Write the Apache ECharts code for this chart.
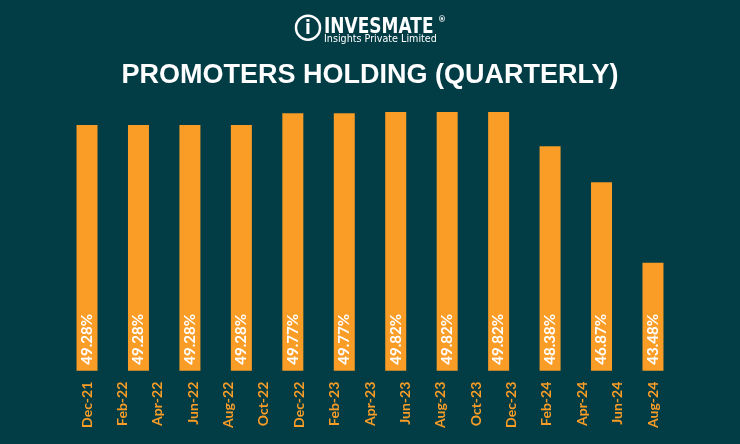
<!DOCTYPE html>
<html><head><meta charset="utf-8">
<script src="https://cdn.jsdelivr.net/npm/echarts@6/dist/echarts.min.js"></script>
<style>html,body{margin:0;padding:0;background:#023c45}#c{width:740px;height:444px}</style>
</head><body><div id="c"></div>
<script>
const barCategories = ['Dec-21','Feb-22','Apr-22','Jun-22','Aug-22','Oct-22','Dec-22','Feb-23','Apr-23','Jun-23','Aug-23','Oct-23'];
const holdingValues = [49.28, 49.28, 49.28, 49.28, 49.77, 49.77, 49.82, 49.82, 49.82, 48.38, 46.87, 43.48];
const tickLabels = ['Dec-21','Feb-22','Apr-22','Jun-22','Aug-22','Oct-22','Dec-22','Feb-23','Apr-23','Jun-23','Aug-23','Oct-23','Dec-23','Feb-24','Apr-24','Jun-24','Aug-24'];
const titleText = 'PROMOTERS HOLDING (QUARTERLY)';

const chart = echarts.init(document.getElementById('c'), null, {renderer:'canvas'});
const orange = '#f99d27';
chart.setOption({
  backgroundColor: '#023c45',
  animation: false,
  title: {
    text: titleText, left: 'center', top: 57,
    textStyle: {color:'#ffffff', fontSize: 27, fontWeight: 'bold', fontFamily: 'Liberation Sans'}
  },
  graphic: [
    {type:'circle', shape:{cx:308, cy:27.7, r:12}, style:{fill:'none', stroke:'#ffffff', lineWidth:2.5}},
    {type:'text', x:308, y:29, scaleY:1.15, style:{x:0, y:0, text:'i', fill:'#ffffff', font:'bold 17px "DejaVu Sans"', align:'center', verticalAlign:'middle'}},
    {type:'text', x:324, y:27.3, scaleY:1.2, style:{x:0, y:0, text:'INVESMATE', fill:'#ffffff', font:'bold 17px "DejaVu Sans"', verticalAlign:'middle'}},
    {type:'text', style:{x:438, y:20, text:'®', fill:'#ffffff', font:'bold 8px "DejaVu Sans"', verticalAlign:'middle'}},
    {type:'text', style:{x:324, y:39, text:'Insights Private Limited', fill:'#ffffff', font:'9.6px "DejaVu Sans"', verticalAlign:'middle'}}
  ],
  grid: [
    {left: 61.3, right: 61.3, top: 107.8, bottom: 73.3},
    {left: 87, right: 87, top: 107.8, bottom: 73.3}
  ],
  xAxis: [
    {type:'category', gridIndex:0, data: barCategories, boundaryGap:true,
     axisLine:{show:false}, axisTick:{show:false}, axisLabel:{show:false}},
    {type:'category', gridIndex:1, data: tickLabels, boundaryGap:false,
     axisLine:{show:false}, axisTick:{show:false},
     axisLabel:{show:true, interval:0, rotate:90, color: orange, fontSize:14, fontWeight:'bold', fontFamily:'Lato', margin:11}}
  ],
  yAxis: [
    {type:'value', gridIndex:0, min:38.94, max:50, show:false, splitLine:{show:false}},
    {type:'value', gridIndex:1, min:0, max:1, show:false, splitLine:{show:false}}
  ],
  series: [
    {type:'bar', xAxisIndex:0, yAxisIndex:0, data: holdingValues, barWidth:21,
     itemStyle:{color: orange},
     label:{show:true, position:'insideBottom', rotate:90, align:'left', verticalAlign:'middle', distance:6,
            color:'#ffffff', fontSize:15, fontWeight:'bold', fontFamily:'Lato',
            formatter: p => p.value.toFixed(2) + '%'}}
  ]
});
</script></body></html>
